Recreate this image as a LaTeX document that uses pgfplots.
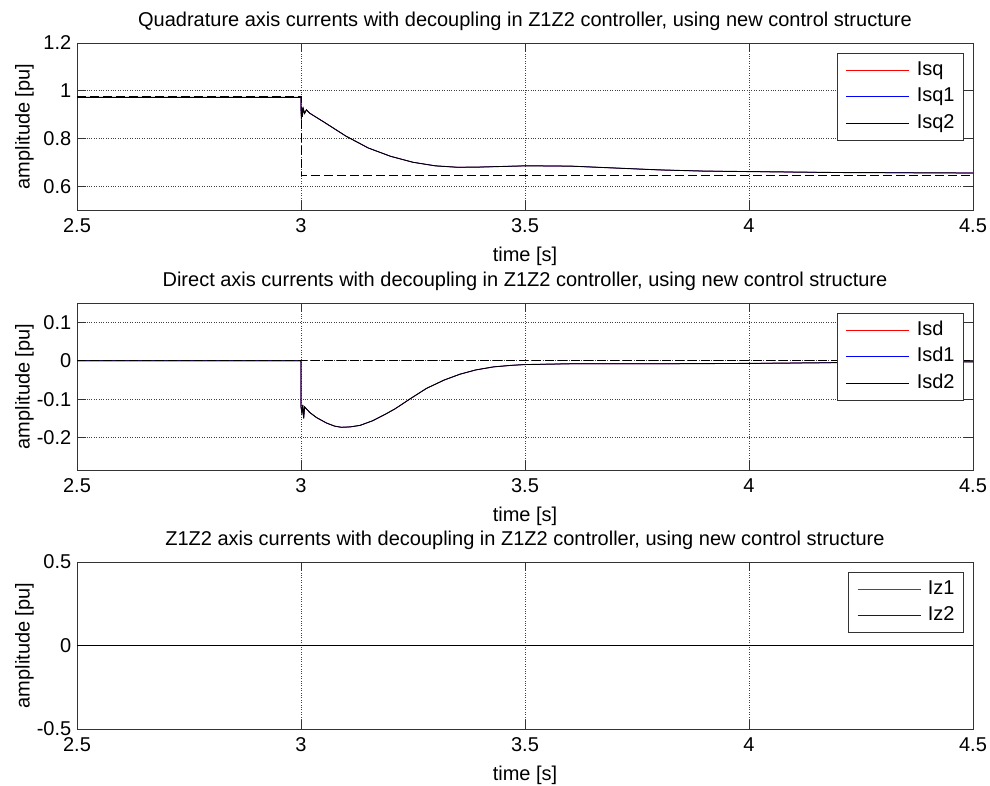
\documentclass[border=0pt]{standalone}
\usepackage{fontspec}
\setmainfont{Liberation Sans}
\usepackage{pgfplots}
\pgfplotsset{compat=1.18}
\definecolor{mred}{RGB}{255,0,0}
\definecolor{mblue}{RGB}{0,0,255}
\newcommand\f{\fontsize{20}{24}\selectfont}
\pgfplotsset{
  every axis title/.style={at={(rel axis cs:0.5,1)}, anchor=base, yshift=16pt, font=\f, inner sep=0pt},
  every axis x label/.style={at={(rel axis cs:0.5,0)}, anchor=base, yshift=-51.7pt, font=\f, inner sep=0pt},
  every axis y label/.style={at={(rel axis cs:0,0.5)}, xshift=-47.5pt, rotate=90, anchor=base, font=\f, inner sep=0pt},
  mstyle/.style={
    scale only axis, width=896pt, height=167pt, anchor=south west,
    xmin=2.5, xmax=4.5, xtick={2.5,3,3.5,4,4.5},
    /pgf/number format/assume math mode=true,
    grid=major, grid style={dotted, black!75, line width=0.7pt},
    axis line style={black!80, line width=0.8pt},
    major tick length=9pt, tick style={black!80, line width=0.8pt},
    tick align=inside,
    xticklabel style={anchor=base, yshift=-23pt, inner sep=0pt, font=\f},
    yticklabel style={anchor=east, inner sep=0pt, xshift=-5.5pt, font=\f},
    xlabel={time [s]}, ylabel={amplitude [pu]},
    legend style={at={(1,1)}, anchor=north east, xshift=-9pt, yshift=-10pt,
      draw=black!80, line width=0.8pt, fill=white, inner xsep=9pt, inner ysep=7.8pt,
      row sep=8.7pt, column sep=7pt,
      nodes={inner sep=0pt, text height=14pt, text depth=4pt, font=\f}},
    legend cell align=left,
    legend image code/.code={\draw[#1, line width=0.8pt] (0pt,0pt) -- (63pt,0pt);},
  },
}
\pgfplotstableread{
t v
2.5 0.972
3.0 0.972
3.0 0.92
3.001 0.88
3.002 0.93
3.003 0.89
3.005 0.925
3.008 0.905
3.012 0.92
3.02 0.905
3.05 0.87
3.1 0.81
3.15 0.76
3.2 0.725
3.25 0.70
3.3 0.685
3.35 0.679
3.4 0.68
3.5 0.685
3.6 0.684
3.7 0.676
3.8 0.668
3.9 0.663
4.0 0.661
4.2 0.657
4.5 0.655
}\isqtab
\pgfplotstableread{
t v
2.5 0.975
3.0 0.975
3.0 0.647
4.5 0.647
}\isqreftab
\pgfplotstableread{
t v
2.5 0
3.0 0
3.0 -0.12
3.002 -0.135
3.004 -0.115
3.006 -0.15
3.008 -0.12
3.012 -0.125
3.02 -0.135
3.035 -0.148
3.057 -0.162
3.075 -0.170
3.09 -0.173
3.11 -0.172
3.132 -0.168
3.16 -0.156
3.19 -0.138
3.21 -0.125
3.245 -0.098
3.28 -0.072
3.32 -0.050
3.355 -0.035
3.39 -0.024
3.43 -0.016
3.47 -0.012
3.5 -0.01
3.6 -0.008
3.8 -0.008
4.0 -0.007
4.2 -0.005
4.5 -0.003
}\isdtab
\pgfplotstableread{
t v
2.5 0
4.5 0
}\flattab
\begin{document}
\begin{tikzpicture}
\useasboundingbox (0,0) rectangle (990pt,786pt);
\begin{axis}[mstyle, at={(77pt,576pt)},
  ymin=0.5, ymax=1.2, ytick={0.6,0.8,1,1.2},
  legend entries={Isq,Isq1,Isq2},
  title={Quadrature axis currents with decoupling in Z1Z2 controller, using new control structure}]
\addplot[mred, line width=0.6pt] table[x=t,y=v] {\isqtab};
\addplot[mblue, line width=0.6pt] table[x=t,y=v] {\isqtab};
\addplot[black, line width=0.9pt] table[x=t,y=v] {\isqtab};
\addplot[black, dashed, dash pattern=on 9pt off 4pt, line width=0.8pt, forget plot] table[x=t,y=v] {\isqreftab};
\end{axis}
\begin{axis}[mstyle, at={(77pt,316pt)},
  ymin=-0.284, ymax=0.15, ytick={-0.2,-0.1,0,0.1},
  legend entries={Isd,Isd1,Isd2},
  title={Direct axis currents with decoupling in Z1Z2 controller, using new control structure}]
\addplot[mred, line width=0.6pt] table[x=t,y=v] {\isdtab};
\addplot[mblue, line width=0.6pt] table[x=t,y=v] {\isdtab};
\addplot[black, line width=0.9pt] table[x=t,y=v] {\isdtab};
\addplot[black, dashed, dash pattern=on 9pt off 4pt, line width=0.8pt, forget plot] table[x=t,y=v] {\flattab};
\end{axis}
\begin{axis}[mstyle, at={(77pt,57pt)},
  ymin=-0.5, ymax=0.5, ytick={-0.5,0,0.5},
  legend entries={Iz1,Iz2},
  title={Z1Z2 axis currents with decoupling in Z1Z2 controller, using new control structure}]
\addplot[mred, line width=0.6pt] table[x=t,y=v] {\flattab};
\addplot[mblue, line width=0.6pt] table[x=t,y=v] {\flattab};
\addplot[black, line width=0.9pt, forget plot] table[x=t,y=v] {\flattab};
\end{axis}
\end{tikzpicture}
\end{document}
